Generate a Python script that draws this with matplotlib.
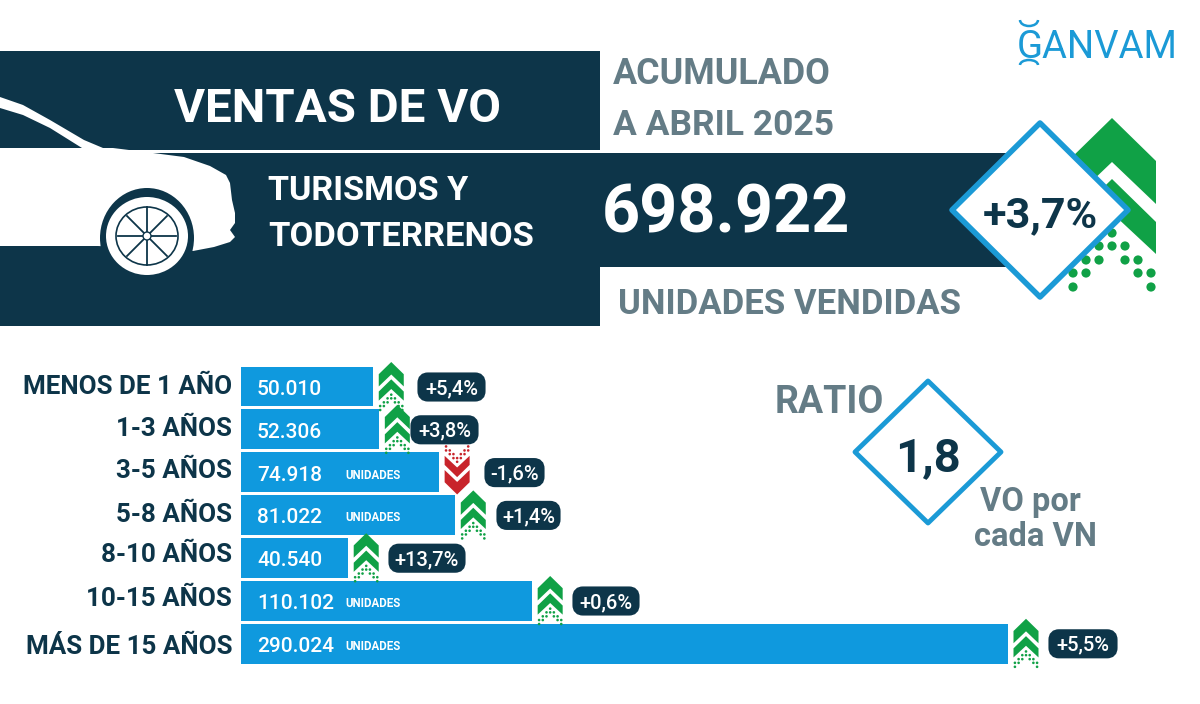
import matplotlib
matplotlib.use("Agg")
import matplotlib.pyplot as plt
import matplotlib.patches as mpatches

ages = ["MENOS DE 1 AÑO", "1-3 AÑOS", "3-5 AÑOS", "5-8 AÑOS", "8-10 AÑOS", "10-15 AÑOS", "MÁS DE 15 AÑOS"]
units = [50010, 52306, 74918, 81022, 40540, 110102, 290024]
unit_labels = ["50.010", "52.306", "74.918", "81.022", "40.540", "110.102", "290.024"]
changes = ["+5,4%", "+3,8%", "-1,6%", "+1,4%", "+13,7%", "+0,6%", "+5,5%"]

DARK = "#0d3549"
BLUE = "#0f99de"
EDGE = "#1b9ad6"
GREY = "#647c86"
GREEN = "#10a146"
RED = "#c8242b"

plt.rcParams['font.family'] = ['Roboto', 'DejaVu Sans']

fig = plt.figure(figsize=(12, 7.04), dpi=100, facecolor='white')

# bars get their own axes, the rest is drawn in pixel coordinates
ax_bars = fig.add_axes([241/1200, 1 - 665.5/704, 767/1200, 300.5/704], zorder=1)
ax_bars.barh(range(len(units)), units, height=0.93, color=BLUE)
ax_bars.set_xlim(0, max(units))
ax_bars.set_ylim(6.5, -0.5)
ax_bars.axis('off')

ax = fig.add_axes([0, 0, 1, 1], zorder=2)
ax.set_xlim(0, 1200)
ax.set_ylim(704, 0)
ax.axis('off')
ax.patch.set_alpha(0)


def label(x, y, s, size, color=DARK, ha='left', weight='bold', **kw):
    ax.text(x, y + 2.5, s, fontsize=size, color=color, ha=ha, va='center', fontweight=weight, **kw)


def arrow(cx, top, w, color, flip=False, z=3):
    # double chevron with the dots underneath, drawn from the big icon's proportions
    k = w / 88
    h = 172 * k

    def pt(dx, dy):
        if flip:
            return (cx + dx * k, top + h - dy * k)
        return (cx + dx * k, top + dy * k)

    first = [(0, 0), (44, 43), (44, 86), (0, 44), (-44, 86), (-44, 43)]
    second = [(0, 61), (44, 104), (44, 136), (0, 95), (-44, 136), (-44, 104)]
    ax.add_patch(plt.Polygon([pt(*p) for p in first], color=color, lw=0, zorder=z))
    ax.add_patch(plt.Polygon([pt(*p) for p in second], color=color, lw=0, zorder=z))
    dots = [(0, 115), (-13, 128), (0, 128), (13, 128), (-26, 142), (-13, 142), (13, 142), (26, 142),
            (-39, 155), (-26, 155), (26, 155), (39, 155), (-39, 169), (39, 169)]
    for d in dots:
        ax.add_patch(mpatches.Circle(pt(*d), 4.6 * k, color=color, lw=0, zorder=z))


def diamond(cx, cy, hw, hh, lw):
    ax.add_patch(plt.Polygon([(cx, cy - hh), (cx + hw, cy), (cx, cy + hh), (cx - hw, cy)],
                             closed=True, facecolor='white', edgecolor=EDGE, lw=lw,
                             joinstyle='round', zorder=5))


# header bands
ax.add_patch(mpatches.Rectangle((0, 51), 600, 99, color=DARK, lw=0))
ax.add_patch(mpatches.Rectangle((0, 153), 600, 173, color=DARK, lw=0))
ax.add_patch(mpatches.Rectangle((600, 153), 420, 114, color=DARK, lw=0))

# car
car = [(0, 97), (23, 105), (50, 120), (84, 140), (103, 148), (113, 148), (153, 153), (184, 157),
       (210, 166), (226, 175), (230, 183), (232, 200), (235, 213), (235, 223), (230, 230),
       (235, 237), (230, 242), (214, 247), (193, 251), (98, 246), (0, 246)]
window = [(0, 108), (23, 115), (50, 128), (82, 148), (0, 148)]
ax.add_patch(plt.Polygon(car, color='white', lw=0, zorder=2))
ax.add_patch(plt.Polygon(window, color=DARK, lw=0, zorder=2))
ax.add_patch(mpatches.Ellipse((147, 238), 94, 100, color=DARK, lw=0, zorder=2))
ax.add_patch(mpatches.Ellipse((147, 236), 82, 78, color='white', lw=0, zorder=2))
ax.add_patch(mpatches.Ellipse((147, 236), 62, 58, facecolor='white', edgecolor=DARK, lw=1.2, zorder=2))
spokes = [(147, 207), (147, 265), (118, 236), (176, 236), (127, 216), (167, 256), (127, 256), (167, 216)]
for sx, sy in spokes:
    ax.plot([147, sx], [236, sy], color=DARK, lw=1.3, zorder=2)
ax.add_patch(mpatches.Circle((147, 236), 4, facecolor='white', edgecolor=DARK, lw=1, zorder=2))

# header text
label(337, 106, "VENTAS DE VO", 34.2, 'white', ha='center')
label(268, 188, "TURISMOS Y", 24.6, 'white')
label(268, 235, "TODOTERRENOS", 24.8, 'white')
label(602, 212, "698.922", 48, 'white')
label(613, 72, "ACUMULADO", 25.8, GREY)
label(613, 123, "A ABRIL 2025", 25.5, GREY)
label(618, 302, "UNIDADES VENDIDAS", 25, GREY)

# logo
label(1097, 45, "GANVAM", 27.5, EDGE, ha='center', weight='normal')
ax.add_patch(mpatches.Arc((1029, 20), 18, 12, theta1=0, theta2=180, color=EDGE, lw=1.8))
ax.add_patch(mpatches.Arc((1029, 65), 18, 10, theta1=180, theta2=360, color=EDGE, lw=1.8))

# big change icon and diamond
arrow(1112, 118, 88, GREEN)
diamond(1040, 210, 88, 87, 4)
ax.text(1040, 216, "+3,7%", fontsize=31, color=DARK, ha='center', va='center', fontweight='bold', zorder=6)

# ratio
label(775, 400, "RATIO", 27, GREY, zorder=6)
diamond(928, 452, 73, 71, 3.5)
ax.text(928, 458, "1,8", fontsize=34, color=DARK, ha='center', va='center', fontweight='bold', zorder=6)
label(1030, 499, "VO por", 23.5, GREY, ha='center')
label(1035, 534, "cada VN", 23.5, GREY, ha='center')

# rows
row_y = [385, 427, 469, 512, 553, 597, 644]
badge_left = [417, 410, 484, 496, 388, 572, 1048]
badge_right = [486, 479, 545, 561, 466, 640, 1118]
for i, age in enumerate(ages):
    end = ax_bars.transData.transform((units[i], 0))[0]
    y = 387 + 43 * i - 0.2 * i
    label(232, row_y[i], age, 18.7, ha='right')
    label(257, y, unit_labels[i], 15, 'white', weight='medium')
    if units[i] > 70000:
        label(345, y, "UNIDADES", 8.3, 'white')
    if changes[i].startswith('-'):
        arrow(end + 18, y - 27, 25, RED, flip=True)
    else:
        arrow(end + 18, y - 25, 25, GREEN)
    l, r = badge_left[i], badge_right[i]
    ax.add_patch(mpatches.FancyBboxPatch((l + 6, y - 9), r - l - 12, 18, boxstyle="round,pad=0,rounding_size=5",
                                         mutation_aspect=1, facecolor=DARK, edgecolor=DARK, lw=8, zorder=4))
    ax.text((l + r) / 2, y + 1.5, changes[i], fontsize=14.5, color='white', ha='center', va='center',
            fontweight='medium', zorder=5)

fig.savefig("out.png", dpi=100)
